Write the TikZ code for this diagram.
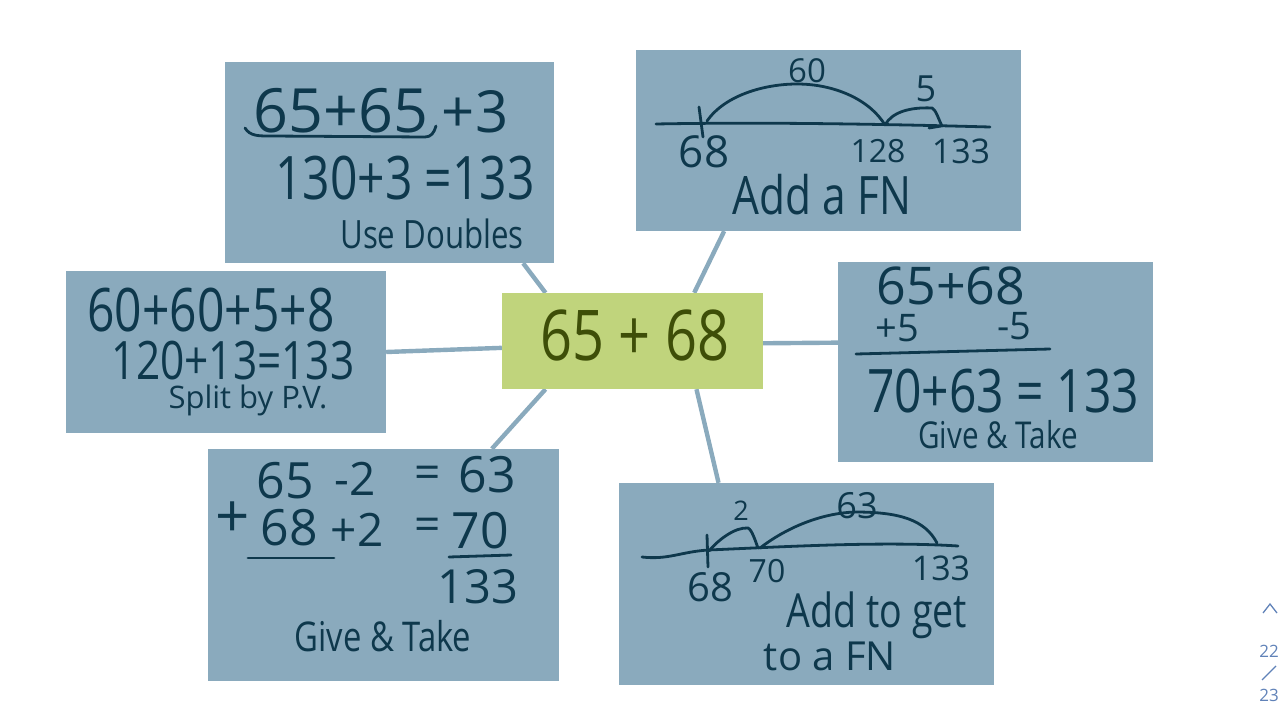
\documentclass[tikz,border=0pt]{standalone}
\usepackage{fontspec}
\setmainfont{Open Sans}
\newfontfamily\narrowink[FakeStretch=0.8]{Open Sans}
\usetikzlibrary{backgrounds}
\definecolor{mapblue}{RGB}{138,170,189}
\definecolor{hubgreen}{RGB}{192,212,124}
\definecolor{inknavy}{RGB}{14,56,76}
\definecolor{inkolive}{RGB}{62,78,8}
\definecolor{pagerblue}{RGB}{96,130,184}
\tikzset{
  mapbox/.style={rectangle,fill=mapblue,inner sep=0pt},
  hubbox/.style={rectangle,fill=hubgreen,inner sep=0pt,minimum width=261pt,minimum height=96pt},
  spoke/.style={draw=mapblue,line width=4.4pt},
  inkline/.style={draw=inknavy,line width=2.8pt,line cap=round},
  scrawl/.style={text=inknavy,inner sep=0pt,font=\fontsize{#1}{#1}\selectfont},
  narrowscrawl/.style={text=inknavy,inner sep=0pt,font=\fontsize{#1}{#1}\narrowink},
  pagerlabel/.style={text=pagerblue,inner sep=0pt,font=\fontsize{17}{17}\selectfont},
  pagerline/.style={draw=pagerblue,line width=1.3pt}
}
\begin{document}
\begin{tikzpicture}[x=1pt,y=-1pt]
  \useasboundingbox (0,0) rectangle (1280,720);
  \node[hubbox] (hub) at (632.5,341) {};
  \node[mapbox,minimum width=329pt,minimum height=201pt] (doubles) at (389.5,162.5) {};
  \node[mapbox,minimum width=385pt,minimum height=181pt] (addfn) at (828.5,140.5) {};
  \node[mapbox,minimum width=320pt,minimum height=162pt] (split) at (226,352) {};
  \node[mapbox,minimum width=315pt,minimum height=200pt] (givea) at (995.5,362) {};
  \node[mapbox,minimum width=351pt,minimum height=232pt] (giveb) at (383.5,565) {};
  \node[mapbox,minimum width=375pt,minimum height=202pt] (addget) at (806.5,584) {};
  \begin{scope}[on background layer]
    \draw[spoke] (doubles.-37.2) -- (hub.151.5);
    \draw[spoke] (addfn.221.2) -- (hub.38.9);
    \draw[spoke] (givea.173.1) -- (hub.-1.5);
    \draw[spoke] (split.0.4) -- (hub.183.9);
    \draw[spoke] (giveb.47.7) -- (hub.209.6);
    \draw[spoke] (addget.131.5) -- (hub.-37.5);
  \end{scope}

  \node[narrowscrawl=70,text=inkolive] (hubsum) at (635,335) {65 + 68};

  \node[scrawl=61] (da) at (341,111) {65+65};
  \node[scrawl=58] (db) at (475,112) {+3};
  \node[narrowscrawl=60] (dc) at (405,178) {130+3 =133};
  \node[narrowscrawl=39] (dd) at (432,234) {Use Doubles};
  \draw[inkline] (245,128) .. controls (250,136) and (258,136) .. (270,136)
    -- (425,137) .. controls (431,137) and (434,133) .. (436,126);

  \node[scrawl=33] (fa) at (807,71) {60};
  \node[scrawl=36] (fb) at (926,89) {5};
  \node[scrawl=44] (fc) at (704,152) {68};
  \node[scrawl=32] (fd) at (878,151) {128};
  \node[scrawl=34] (fe) at (961,151) {133};
  \node[narrowscrawl=53] (ff) at (822,195) {Add a FN};
  \draw[inkline] (656,124) .. controls (760,122) and (880,124) .. (990,127);
  \draw[inkline] (699,107) -- (703,137);
  \draw[inkline] (707,121) .. controls (725,95) and (765,84) .. (797,84)
    .. controls (835,84) and (870,100) .. (885,125);
  \draw[inkline] (885,125) .. controls (892,112) and (910,107) .. (932,108)
    .. controls (936,110) and (938,118) .. (942,126);
  \draw[inkline] (929,128) -- (941,126);

  \node[narrowscrawl=60] (sa) at (211,310) {60+60+5+8};
  \node[narrowscrawl=53] (sb) at (233,361) {120+13=133};
  \node[scrawl=31] (sc) at (248,400) {Split by P.V.};

  \node[scrawl=52] (ga) at (951,286) {65+68};
  \node[scrawl=38] (gb) at (897,328) {+5};
  \node[scrawl=38] (gc) at (1014,326) {-5};
  \draw[inkline] (856,354) -- (1050,349);
  \node[narrowscrawl=60] (gd) at (1003,391) {70+63 = 133};
  \node[narrowscrawl=37] (ge) at (998,435) {Give \& Take};

  \node[scrawl=50] (ha) at (285,481) {65};
  \node[scrawl=46] (hb) at (355,479) {-2};
  \node[scrawl=46] (hc) at (428,477) {=};
  \node[scrawl=50] (hd) at (487,475) {63};
  \node[scrawl=60] (he) at (233,520) {+};
  \node[scrawl=50] (hf) at (289,528) {68};
  \node[scrawl=46] (hg) at (357,530) {+2};
  \node[scrawl=46] (hh) at (428,529) {=};
  \node[scrawl=50] (hi) at (480,531) {70};
  \draw[inkline] (248,558) -- (334,558);
  \draw[inkline] (449,557) -- (511,555);
  \node[scrawl=47] (hj) at (478,587) {133};
  \node[narrowscrawl=41] (hk) at (383,636) {Give \& Take};

  \node[scrawl=27] (ka) at (741,511) {2};
  \node[scrawl=36] (kb) at (857,506) {63};
  \node[scrawl=40] (kc) at (710,587) {68};
  \node[scrawl=32] (kd) at (767,571) {70};
  \node[scrawl=34] (ke) at (941,568) {133};
  \node[narrowscrawl=47] (kf) at (877,615) {Add to get};
  \node[scrawl=40] (kg) at (830,656) {to a FN};
  \draw[inkline] (642,557) .. controls (668,560) and (680,552) .. (708,550)
    .. controls (780,547) and (880,541) .. (958,546);
  \draw[inkline] (707,535) -- (708,567);
  \draw[inkline] (709,551) .. controls (718,540) and (735,527) .. (748,528)
    .. controls (752,530) and (755,540) .. (758,548);
  \draw[inkline] (760,548) .. controls (790,525) and (825,513) .. (855,512)
    .. controls (900,512) and (925,520) .. (937,543);

  \draw[pagerline] (1263,613) -- (1270,604) -- (1277,613);
  \node[pagerlabel] (pagenow) at (1269,651) {22};
  \draw[pagerline] (1262,680) -- (1276,666);
  \node[pagerlabel] (pageall) at (1269,695) {23};
\end{tikzpicture}
\end{document}
